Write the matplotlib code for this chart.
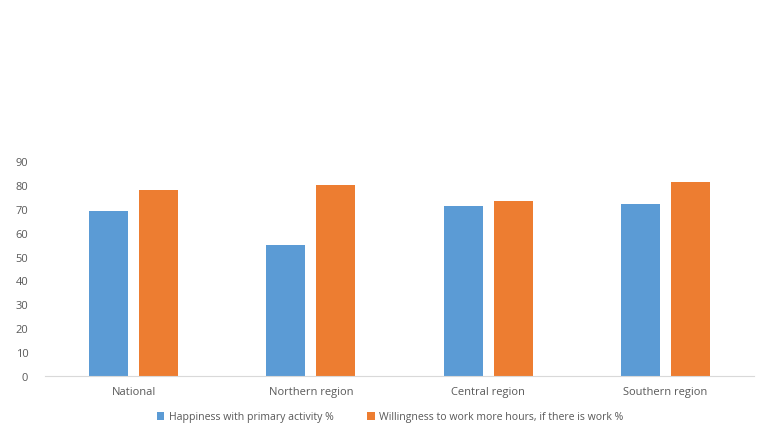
import numpy as np
import matplotlib.pyplot as plt

categories = ['National', 'Northern region', 'Central region', 'Southern region']
happiness = [69, 55, 71.2, 71.8]
willingness = [78, 80, 73.3, 81]
series_names = ['Happiness with primary activity %',
                'Willingness to work more hours, if there is work %']

blue = '#5B9BD5'
orange = '#ED7D31'
grey = '#595959'

plt.rcParams['font.family'] = ['Open Sans', 'DejaVu Sans']

fig = plt.figure(figsize=(7.8, 4.39), dpi=100)
ax = fig.add_axes([0.0577, 0.1412, 0.909, 0.4898])

x = np.arange(len(categories))
w = 0.22
off = 0.141
ax.bar(x - off, happiness, w, color=blue, label=series_names[0])
ax.bar(x + off, willingness, w, color=orange, label=series_names[1])

ax.set_xlim(-0.5, len(categories) - 0.5)
ax.set_ylim(0, 90)
ax.set_yticks(range(0, 91, 10))
ax.set_xticks(x)
ax.set_xticklabels(categories)

for s in ['top', 'right', 'left']:
    ax.spines[s].set_visible(False)
ax.spines['bottom'].set_color('#d9d9d9')
ax.tick_params(axis='both', length=0, colors=grey, labelsize=8)
ax.tick_params(axis='y', pad=12)
ax.tick_params(axis='x', pad=7)

fig.legend(loc='center', bbox_to_anchor=(0.5, 1 - 418 / 439), ncol=2,
           frameon=False, fontsize=7.6, labelcolor=grey, handlelength=0.7,
           handleheight=0.7, handletextpad=0.4, columnspacing=3.2)

fig.savefig('out.png', dpi=100)
